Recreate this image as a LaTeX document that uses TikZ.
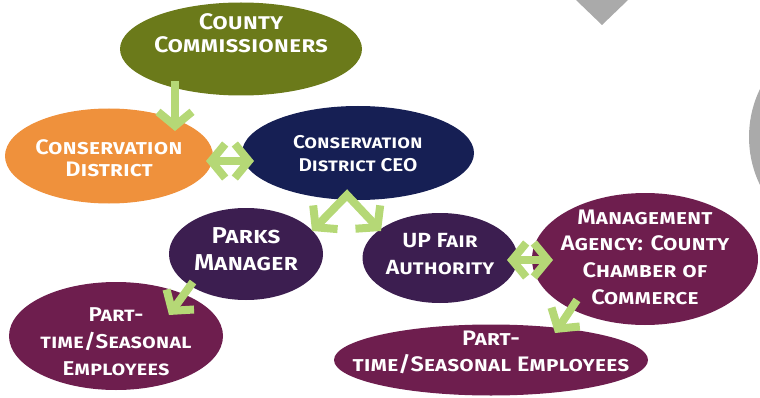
\documentclass[tikz,border=0pt]{standalone}
\usepackage{fontspec}
\setmainfont{Fira Sans}[FakeStretch=1.12, BoldFont={Fira Sans SemiBold}]
\usetikzlibrary{shapes.geometric, arrows.meta, positioning}
\definecolor{countyolive}{RGB}{107,122,26}
\definecolor{districtorange}{RGB}{239,145,60}
\definecolor{ceonavy}{RGB}{22,31,84}
\definecolor{staffpurple}{RGB}{60,30,80}
\definecolor{agencyplum}{RGB}{110,30,78}
\definecolor{linkgreen}{RGB}{181,216,118}
\definecolor{decogray}{RGB}{170,170,170}

% text block, raised inside its bubble
\newcommand{\bubbletext}[2]{\raisebox{#1}[0pt][0pt]{\begin{tabular}{@{}c@{}}#2\end{tabular}}}

\tikzset{
  bubble/.style={ellipse, inner sep=-50pt, text=white},
  linkarrow/.style={line width=8pt, draw=linkgreen,
    -{Straight Barb[length=14pt,width=34pt]}},
  linkboth/.style={line width=8pt, draw=linkgreen,
    {Straight Barb[length=14pt,width=34pt]}-{Straight Barb[length=14pt,width=34pt]}}
}

\begin{document}
\begin{tikzpicture}[x=1pt,y=1pt]
    \useasboundingbox (0,0) rectangle (760,397);
    % grey shapes from the slide background
    \begin{scope}
      \clip (0,0) rectangle (760,397);
      \fill[decogray] (576,397) -- (628,397) -- (602,372) -- cycle;
      \fill[decogray] (859,260) circle (110);
    \end{scope}

    \node[bubble,fill=countyolive,minimum width=242pt,minimum height=93pt,
          font=\bfseries\scshape\fontsize{22.5}{23}\selectfont] (county) at (241,348)
          {\bubbletext{7.3pt}{County\\Commissioners}};
    \node[bubble,fill=districtorange,minimum width=208pt,minimum height=95pt,
          font=\bfseries\scshape\fontsize{21}{22}\selectfont] (district) at (109,241)
          {\bubbletext{-10.1pt}{Conservation\\District}};
    \node[bubble,fill=ceonavy,minimum width=232pt,minimum height=94pt,
          font=\bfseries\scshape\fontsize{18.5}{23}\selectfont] (ceo) at (358,244)
          {\bubbletext{-6.4pt}{Conservation\\District CEO}};
    \node[bubble,fill=staffpurple,minimum width=154pt,minimum height=92pt,
          font=\bfseries\scshape\fontsize{23}{27}\selectfont] (parks) at (246,143)
          {\bubbletext{-4.2pt}{Parks\\Manager}};
    \node[bubble,fill=staffpurple,minimum width=155pt,minimum height=90pt,
          font=\bfseries\scshape\fontsize{20.5}{27}\selectfont] (fair) at (440,139)
          {\bubbletext{-2.8pt}{UP Fair\\Authority}};
    \node[bubble,fill=agencyplum,minimum width=226pt,minimum height=132pt,
          font=\bfseries\scshape\fontsize{21}{26.7}\selectfont] (agency) at (645,138)
          {\bubbletext{-5.1pt}{Management\\Agency: County\\Chamber of\\Commerce}};
    \node[bubble,fill=agencyplum,minimum width=214pt,minimum height=108pt,
          font=\bfseries\scshape\fontsize{20}{27}\selectfont] (parttimeL) at (116,61)
          {\bubbletext{-12.5pt}{Part-\\time/Seasonal\\Employees}};
    \node[bubble,fill=agencyplum,minimum width=314pt,minimum height=71pt,
          font=\bfseries\scshape\fontsize{21}{26}\selectfont] (parttimeR) at (491,37)
          {\bubbletext{1.7pt}{Part-\\time/Seasonal Employees}};

    % green links
    \draw[linkarrow] ([shift={(-66,-32)}]county.center) -- ([shift={(66,25)}]district.center);
    \draw[linkboth] ([shift={(97,-5)}]district.center) -- ([shift={(-104,-8)}]ceo.center);
    \draw[linkboth] ([shift={(66,23)}]parks.center) -- ([shift={(-11,-42)}]ceo.center) -- ([shift={(-59,27)}]fair.center);
    \draw[linkarrow] ([shift={(-53,-28)}]parks.center) -- ([shift={(53,21)}]parttimeL.center);
    \draw[linkboth] ([shift={(67,-2)}]fair.center) -- ([shift={(-92,-1)}]agency.center);
    \draw[linkarrow] ([shift={(-68,-41)}]agency.center) -- ([shift={(64,27)}]parttimeR.center);
\end{tikzpicture}
\end{document}
